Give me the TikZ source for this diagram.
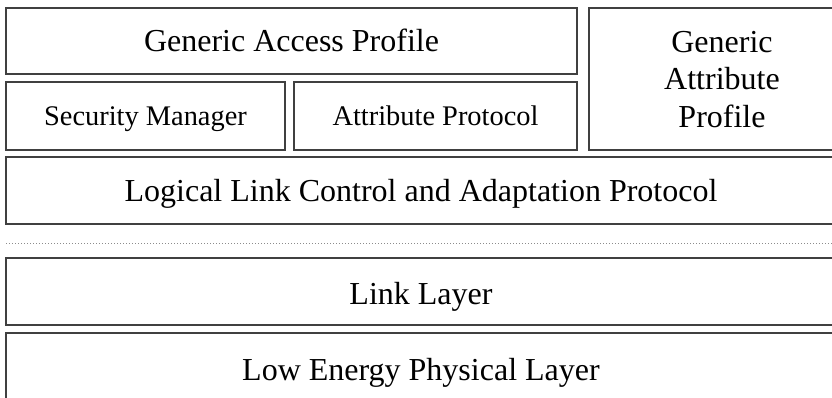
\documentclass[tikz,border=0pt]{standalone}
\usepackage{fontspec}
\setmainfont{Liberation Serif}
\begin{document}
\begin{tikzpicture}[x=1pt,y=-1pt,
  layer/.style={draw=black!75,line width=1.4pt,fill=white},
  big/.style={font=\fontsize{32}{37.5}\selectfont},
  small/.style={font=\fontsize{28.4}{33}\selectfont}]
\useasboundingbox (0,0) rectangle (832,398);
\fill[white] (0,0) rectangle (832,398);
\draw[layer] (6,8) rectangle (577,74);
\node[big,anchor=base] (gap) at (291.5,52) {Generic Access Profile};
\draw[layer] (6,82) rectangle (285,150);
\node[small,anchor=base] (sm) at (145.5,126) {Security Manager};
\draw[layer] (294,82) rectangle (577,150);
\node[small,anchor=base] (att) at (435.5,126) {Attribute Protocol};
\draw[layer] (589,8) rectangle (845,150);
\node[big,align=center,anchor=center] (gatt) at (722,79.5) {Generic\\Attribute\\Profile};
\draw[layer] (6,157) rectangle (845,224);
\node[big,anchor=base] (l2cap) at (421,201) {Logical Link Control and Adaptation Protocol};
\draw[black!45,dotted,line width=1pt] (6,243) -- (832,243);
\draw[layer] (6,258) rectangle (845,325);
\node[big,anchor=base] (ll) at (421,304) {Link Layer};
\draw[layer] (6,333) rectangle (845,410);
\node[big,anchor=base] (phy) at (421,380) {Low Energy Physical Layer};
\end{tikzpicture}
\end{document}
